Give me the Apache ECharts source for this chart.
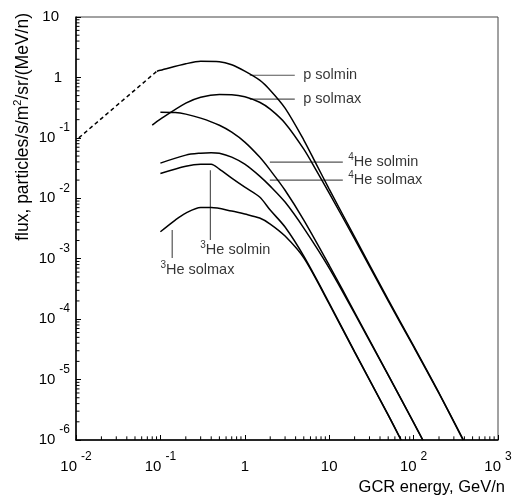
<!DOCTYPE html>
<html>
<head>
<meta charset="utf-8">
<script src="https://cdn.jsdelivr.net/npm/echarts@6/dist/echarts.min.js"></script>
<style>
  html, body { margin: 0; padding: 0; background: #fff; }
  #chart { width: 516px; height: 500px; }
</style>
</head>
<body>
<div id="chart"></div>
<script>
// energy in GeV/n, flux in particles/s/m2/sr/(MeV/n)
const pSolmin = [[0.091, 1.27], [0.1, 1.31], [0.2, 1.68], [0.3, 1.85], [0.5, 1.82], [0.7, 1.62], [1, 1.27], [1.5, 0.90], [2, 0.614], [3, 0.31], [5, 0.092], [7, 0.037], [10, 0.0142], [20, 2.3e-3], [50, 2.1e-4], [100, 3.6e-5], [200, 6.0e-6], [390, 1.0e-6]];
const pSolmax = [[0.08, 0.162], [0.1, 0.204], [0.2, 0.375], [0.3, 0.471], [0.5, 0.521], [0.7, 0.518], [1, 0.48], [1.5, 0.389], [2, 0.298], [3, 0.175], [5, 0.065], [7, 0.0292], [10, 0.0122], [20, 2.12e-3], [50, 2.0e-4], [100, 3.5e-5], [200, 5.9e-6], [385, 1.0e-6]];
const he4Solmin = [[0.1, 0.266], [0.15, 0.263], [0.2, 0.247], [0.3, 0.212], [0.5, 0.162], [0.7, 0.124], [1, 0.085], [1.5, 0.048], [2, 0.0292], [3, 0.0136], [5, 0.00436], [10, 7.8e-4], [20, 1.3e-4], [50, 1.2e-5], [100, 1.95e-6], [129, 1e-6]];
const he4Solmax = [[0.1, 0.0382], [0.2, 0.0518], [0.3, 0.0558], [0.4, 0.0569], [0.5, 0.0558], [0.7, 0.048], [1, 0.0367], [1.5, 0.0233], [2, 0.0159], [3, 0.00865], [5, 0.00321], [10, 7.0e-4], [20, 1.24e-4], [50, 1.18e-5], [100, 1.93e-6], [128, 1e-6]];
const he3Solmin = [[0.1, 0.0258], [0.2, 0.034], [0.3, 0.0367], [0.4, 0.0367], [0.5, 0.0304], [0.7, 0.0216], [1, 0.0153], [1.5, 0.0105], [2, 0.00638], [3, 0.00334], [5, 0.0011], [10, 1.85e-4], [20, 2.9e-5], [50, 2.6e-6], [71, 1e-6]];
const he3Solmax = [[0.1, 0.00279], [0.15, 0.00436], [0.2, 0.00569], [0.3, 0.00702], [0.4, 0.00702], [0.7, 0.00614], [1, 0.00548], [1.5, 0.00471], [2, 0.00375], [3, 0.00237], [5, 0.00103], [10, 1.78e-4], [20, 2.85e-5], [50, 2.58e-6], [71, 1e-6]];
// dashed extrapolation of p solmin to low energy
const pExtrap = [[0.0108, 0.1], [0.091, 1.27]];

// label leader lines and label anchors (data coords)
const leaders = [
  [[1.146, 1.087], [3.91, 1.087]],
  [[1.146, 0.436], [3.91, 0.436]],
  [[1.98, 0.0396], [14.5, 0.0396]],
  [[1.98, 0.02], [14.5, 0.02]],
  [[0.391, 0.0292], [0.391, 0.00204]],
  [[0.138, 0.00298], [0.138, 0.00103]]
];
const labelTexts = ['p solmin', 'p solmax', '{s|4}He solmin', '{s|4}He solmax', '{s|3}He solmin', '{s|3}He solmax'];
const labelAt = [[4.85, 1.087], [4.85, 0.436], [16.6, 0.0396], [16.6, 0.02], [0.293, 0.00139], [0.0986, 6.5e-4]];

const xMin = 0.01, xMax = 1000;
const yMin = 1e-6, yMax = 10;

const FONT = '"Liberation Sans", Arial, Helvetica, sans-serif';

// minor ticks 2..9 in every decade, drawn as short segments inside the axes
function minorTickData() {
  const xs = [], ys = [];
  for (let d = -2; d < 3; d++) {
    for (let k = 2; k < 10; k++) {
      const v = k * Math.pow(10, d);
      xs.push([v, yMin], [v, yMin * 1.15], [v, '-']);
    }
  }
  for (let d = -6; d < 1; d++) {
    for (let k = 2; k < 10; k++) {
      const v = k * Math.pow(10, d);
      ys.push([xMin, v], [xMin * 1.1, v], ['-', v]);
    }
  }
  return [xs, ys];
}
const minor = minorTickData();

const tickRich = {
  b: { fontSize: 15, fontFamily: FONT, color: '#000', lineHeight: 33 },
  p1: { fontSize: 15, fontFamily: FONT, color: '#000', lineHeight: 33, padding: [0, 8, 0, 0] },
  p10: { fontSize: 15, fontFamily: FONT, color: '#000', lineHeight: 33, padding: [0, 11, 0, 0] },
  e: { fontSize: 12, fontFamily: FONT, color: '#000', padding: [0, 0, 20, 4] }
};

function xLabel(v) {
  const e = Math.round(Math.log10(v));
  if (e === 0) return '{b|1}';
  if (e === 1) return '{b|10}';
  return '{b|10}{e|' + e + '}';
}
function yLabel(v) {
  const e = Math.round(Math.log10(v));
  if (e === 0) return '{p1|1}';
  if (e === 1) return '{p10|10}';
  return '{b|10}{e|' + e + '}';
}

function curve(data) {
  return {
    type: 'line', data: data, showSymbol: false, symbol: 'none', smooth: 0.3,
    lineStyle: { color: '#000', width: 1.5 }, silent: true, z: 3
  };
}

const chart = echarts.init(document.getElementById('chart'));

const series = [
  curve(pSolmin), curve(pSolmax), curve(he4Solmin), curve(he4Solmax), curve(he3Solmin), curve(he3Solmax),
  {
    type: 'line', data: pExtrap, showSymbol: false, symbol: 'none',
    lineStyle: { color: '#000', width: 1.5, type: [4, 3] }, silent: true
  },
  {
    type: 'line', data: minor[0], showSymbol: false, symbol: 'none', connectNulls: false,
    lineStyle: { color: '#000', width: 1 }, silent: true, z: 5
  },
  {
    type: 'line', data: minor[1], showSymbol: false, symbol: 'none', connectNulls: false,
    lineStyle: { color: '#000', width: 1 }, silent: true, z: 5
  }
];
leaders.forEach(function (l) {
  series.push({
    type: 'line', data: l, showSymbol: false, symbol: 'none',
    lineStyle: { color: '#555', width: 1.2 }, silent: true, z: 2
  });
});
series.push({
  type: 'scatter', symbolSize: 1, itemStyle: { color: 'transparent' }, silent: true,
  data: labelAt.map(function (p, i) {
    return { value: p, label: { formatter: labelTexts[i] } };
  }),
  label: {
    show: true, position: 'right', distance: 0,
    fontSize: 14.5, fontFamily: FONT, color: '#000',
    rich: { s: { fontSize: 10, fontFamily: FONT, color: '#000', padding: [0, 0, 10, 0] } }
  }
});

chart.setOption({
  animation: false,
  grid: { left: 76, right: 18, top: 17, bottom: 60, show: true, borderColor: '#444', borderWidth: 1, containLabel: false, outerBoundsMode: 'none' },
  xAxis: {
    type: 'log', logBase: 10, min: xMin, max: xMax, splitNumber: 5,
    axisLine: { show: true, lineStyle: { color: '#000', width: 1.5 } },
    axisTick: { show: true, inside: true, length: 5, lineStyle: { color: '#000', width: 1 } },
    splitLine: { show: false },
    axisLabel: { margin: 10, formatter: xLabel, rich: tickRich, showMinLabel: true, showMaxLabel: true },
    name: 'GCR energy, GeV/n', nameLocation: 'end', nameGap: 7,
    nameTextStyle: { fontSize: 16.5, fontFamily: FONT, color: '#000', align: 'right', verticalAlign: 'top', padding: [39, 0, 0, 0] }
  },
  yAxis: {
    type: 'log', logBase: 10, min: yMin, max: yMax, splitNumber: 7,
    axisLine: { show: true, lineStyle: { color: '#000', width: 1.5 } },
    axisTick: { show: true, inside: true, length: 5, lineStyle: { color: '#000', width: 1 } },
    splitLine: { show: false },
    axisLabel: { margin: 6, formatter: yLabel, rich: tickRich, showMinLabel: true, showMaxLabel: true }
  },
  graphic: [{
    type: 'text', x: 23, y: 13, rotation: Math.PI / 2, silent: true,
    style: {
      text: '{n|flux, particles/s/m}{s|2}{n|/sr/(MeV/n)}',
      align: 'right', verticalAlign: 'middle',
      rich: {
        n: { fontSize: 17.5, fontFamily: FONT, fill: '#000' },
        s: { fontSize: 11, fontFamily: FONT, fill: '#000', padding: [0, 0, 11, 0] }
      }
    }
  }],
  series: series
});
</script>
</body>
</html>
